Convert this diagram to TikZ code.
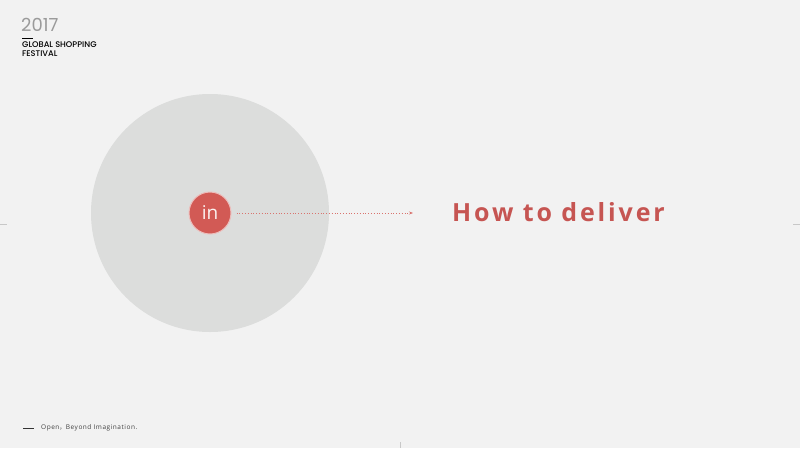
\documentclass[tikz,border=0pt]{standalone}
\usepackage{fontspec}
\setmainfont{Open Sans}
\newfontfamily\cjk{Noto Sans CJK SC}
\newfontfamily\titlefont[LetterSpace=11.5]{Open Sans Bold}
\newfontfamily\smallfont[LetterSpace=8]{Open Sans}
\newfontfamily\headfont{Poppins Medium}
\newfontfamily\yearfont{Poppins}
\usetikzlibrary{arrows.meta}
\definecolor{bg}{HTML}{F2F2F2}
\definecolor{bigc}{HTML}{DCDDDC}
\definecolor{redc}{HTML}{D25A55}
\definecolor{titlec}{HTML}{C65552}
\definecolor{yearc}{HTML}{9A9A9A}
\definecolor{tickc}{HTML}{C8C8C8}
\begin{document}
\begin{tikzpicture}[x=1pt,y=-1pt,
  txt/.style={inner sep=0pt,anchor=west},
  tickln/.style={draw=tickc,line width=0.6pt}]
\useasboundingbox[fill=bg] (0,0) rectangle (800,448);
% edge ticks
\draw[tickln] (0,224) -- (7,224);
\draw[tickln] (793,224) -- (800,224);
\draw[tickln] (400,442) -- (400,448);
% header
\node[txt,text=yearc,font=\yearfont\fontsize{18}{18}\selectfont] (year) at (21,25) {2017};
\coordinate (d1) at (22,38);
\coordinate (d2) at (33,38);
\draw[line width=1pt,black] (d1) -- (d2);
\node[txt,font=\headfont\fontsize{8.2}{9.2}\selectfont,align=left,anchor=north west] (fest) at (22,41.5) {GLOBAL SHOPPING\\FESTIVAL};
% circles
\node[circle,fill=bigc,minimum size=238pt,inner sep=0pt] (big) at (210,213) {};
\node[circle,fill=redc,draw=white!60!redc,line width=1pt,minimum size=42pt,inner sep=0pt,text=white!92!redc,font=\fontsize{19}{19}\selectfont] (in) at (210,213) {in};
\coordinate (arrowend) at (413,213);
\draw[redc!85!white,dotted,line width=0.8pt,-{Stealth[length=4pt,width=3pt]}] (in.east)+(5,0) -- (arrowend);
% title
\node[txt,text=titlec,font=\titlefont\fontsize{25}{25}\selectfont] (title) at (452,212) {How to deliver};
% footer
\coordinate (f1) at (23,428);
\coordinate (f2) at (34,428);
\draw[line width=1pt,black!80] (f1) -- (f2);
\node[txt,text=black!75,font=\smallfont\fontsize{6.5}{6.5}\selectfont] (foot) at (41,428) {Open{\cjk ，}Beyond Imagination.};
\end{tikzpicture}
\end{document}
